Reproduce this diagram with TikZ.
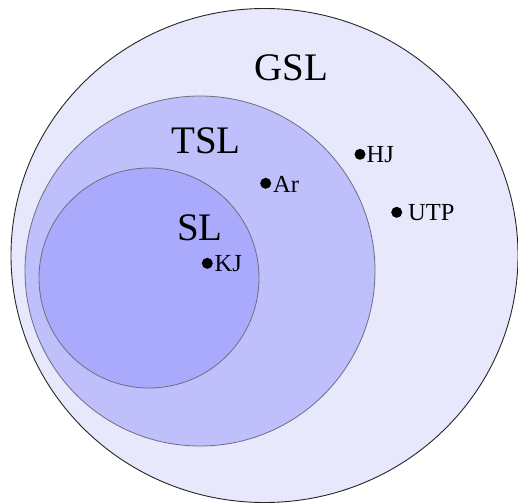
\documentclass[tikz,border=0pt]{standalone}
\usepackage{fontspec}
\setmainfont{Liberation Serif}
\definecolor{gslfill}{HTML}{E8E8FC}
\definecolor{tslfill}{HTML}{BFBFFC}
\definecolor{slfill}{HTML}{AAAAFC}
\definecolor{rimgray}{HTML}{6E6E80}
\tikzset{
  classlabel/.style={anchor=base west, inner sep=0pt, font=\fontsize{39}{39}\selectfont},
  member/.style={circle, fill=black, inner sep=0pt, minimum size=11pt},
  memberlabel/.style={anchor=base west, inner sep=0pt, font=\fontsize{24.5}{24.5}\selectfont},
}
\begin{document}
\begin{tikzpicture}[x=1pt, y=-1pt]
  \useasboundingbox (0,0) rectangle (518,503);
  % nested language classes
  \draw[fill=gslfill, draw=black!85, line width=0.9pt] (264.5,255.5) ellipse [x radius=253.5, y radius=247];
  \draw[fill=tslfill, draw=rimgray, line width=0.8pt] (200,271) circle [radius=175];
  \draw[fill=slfill, draw=rimgray, line width=0.8pt] (149,278) circle [radius=110];
  % class names
  \node[classlabel] (gsl) at (254,80) {GSL};
  \node[classlabel] (tsl) at (171,153.3) {TSL};
  \node[classlabel] (sl) at (177,240.7) {SL};
  % members
  \node[member] (hj) at (360,154.3) {};
  \node[memberlabel] (hjl) at (366.5,162.7) {HJ};
  \node[member] (ar) at (265.7,183.3) {};
  \node[memberlabel] (arl) at (273,192.7) {Ar};
  \node[member] (utp) at (396.7,212.3) {};
  \node[memberlabel] (utpl) at (408,220) {UTP};
  \node[member] (kj) at (207.3,263.3) {};
  \node[memberlabel] (kjl) at (214.5,271.7) {KJ};
\end{tikzpicture}
\end{document}
